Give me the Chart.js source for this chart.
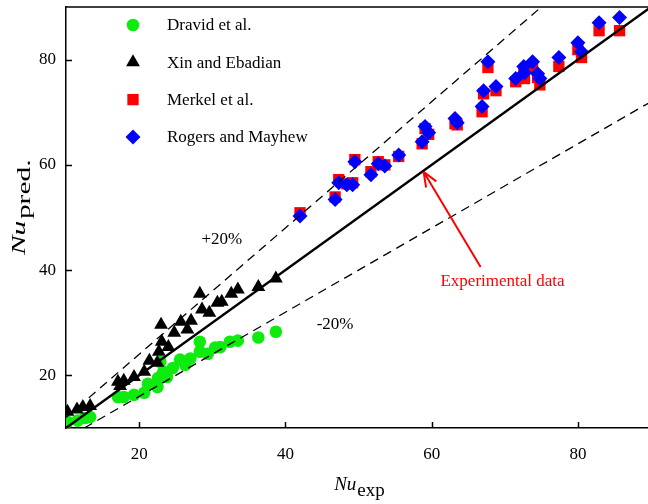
<!DOCTYPE html>
<html>
<head>
<meta charset="utf-8">
<title>Nu prediction vs experiment</title>
<script src="https://cdn.jsdelivr.net/npm/chart.js@4.4.0/dist/chart.umd.min.js"></script>
<style>
    html, body { margin: 0; padding: 0; background: #fff; overflow: hidden; }
    #wrap { width: 648px; height: 504px; overflow: hidden; }
</style>
</head>
<body>
<div id="wrap"><canvas id="nuChart" width="654" height="504"></canvas></div>
<script>
// ============ DATA ============

const xTicks = [20, 40, 60, 80];
const yTicks = [20, 40, 60, 80];

const dravidX = [10.2, 11.6, 12.6, 13.3, 17.1, 17.9, 19.3, 20.7, 21.2, 22.5, 22.6, 22.9, 23.3, 23.8,
    24.6, 25.6, 26.3, 27.0, 28.3, 28.3, 29.4, 30.4, 31.1, 32.4, 33.5, 36.3, 38.7];
const dravidY = [11.2, 11.4, 11.9, 12.1, 15.9, 15.9, 16.3, 16.7, 18.4, 17.8, 19.5, 22.6, 20.7, 19.7,
    21.4, 23.0, 22.0, 23.2, 26.4, 24.5, 24.1, 25.3, 25.4, 26.4, 26.6, 27.2, 28.3];

const xinX = [10.2, 11.5, 12.3, 13.3, 17.1, 17.4, 17.9, 19.3, 20.7, 21.4, 22.5, 22.7, 23.1, 23.0,
    24.0, 24.8, 25.7, 26.6, 27.1, 28.6, 29.6, 30.7, 31.3, 28.3, 32.6, 33.5, 36.3, 38.7];
const xinY = [13.1, 13.5, 14.0, 14.2, 18.8, 18.0, 19.0, 19.7, 20.7, 22.8, 22.4, 24.5, 26.4, 29.6,
    25.4, 28.1, 30.2, 28.7, 30.4, 32.5, 31.9, 33.8, 34.0, 35.5, 35.5, 36.3, 36.8, 38.4];

const rogersX = [42.0, 46.8, 47.3, 48.4, 49.2, 49.5, 51.7, 52.7, 53.6, 55.5, 58.7, 59.1, 59.6, 63.2,
    63.5, 66.9, 67.1, 67.7, 68.8, 71.5, 72.6, 72.7, 73.8, 74.5, 74.8, 77.4, 80.0, 80.5, 82.9, 85.7];
const rogersY = [50.3, 53.4, 56.6, 56.2, 56.2, 60.6, 58.1, 60.2, 59.8, 61.9, 64.4, 67.3, 66.1, 68.8,
    68.0, 71.1, 74.1, 79.6, 74.9, 76.4, 78.7, 77.5, 79.6, 77.3, 76.4, 80.4, 83.2, 81.5, 87.0, 88.0];

const merkelX = [42.0, 46.8, 47.3, 48.4, 49.2, 49.5, 51.7, 52.7, 53.6, 55.5, 58.7, 59.1, 59.6, 63.2,
    63.5, 66.9, 67.1, 67.7, 68.8, 71.5, 72.6, 72.7, 73.8, 74.5, 74.8, 77.4, 80.0, 80.5, 82.9, 85.7];
const merkelY = [50.9, 53.9, 57.2, 56.4, 56.6, 61.0, 58.7, 60.6, 60.0, 61.6, 64.0, 66.9, 65.8, 67.8,
    67.6, 70.1, 73.5, 78.5, 74.1, 75.8, 77.9, 76.4, 78.5, 76.6, 75.2, 78.7, 81.9, 80.4, 85.5, 85.5];

// reference lines: exact agreement and +/-20 % band (end points)
const parityX = [10, 90];
const parityY = [10, 90];
const plus20X = [10, 75];
const plus20Y = [12, 90];
const minus20X = [12.5, 90];
const minus20Y = [10, 72];

// arrow pointing to the parity line
const arrowTip = [58.9, 58.7];
const arrowTail = [66.7, 40.6];

const SERIF = '"Liberation Serif", "Times New Roman", serif';
const GREEN = 'rgb(15, 235, 15)';

const series = [
    { label: 'Dravid et al.', xs: dravidX, ys: dravidY, style: 'circle', radius: 6.3, color: GREEN, order: 4 },
    { label: 'Xin and Ebadian', xs: xinX, ys: xinY, style: 'triangle', radius: 8, color: '#000', order: 3 },
    { label: 'Merkel et al.', xs: merkelX, ys: merkelY, style: 'rect', radius: 8, color: '#ff0000', order: 2 },
    { label: 'Rogers and Mayhew', xs: rogersX, ys: rogersY, style: 'rectRot', radius: 7.5, color: '#0000ff', order: 1 }
];

function toPoints(xs, ys) {
    return xs.map((x, i) => ({ x: x, y: ys[i] }));
}

// ============ DATASETS ============

const datasets = series.map(s => ({
    label: s.label,
    data: toPoints(s.xs, s.ys),
    pointStyle: s.style,
    pointRadius: s.radius,
    pointHoverRadius: s.radius,
    backgroundColor: s.color,
    borderColor: s.color,
    borderWidth: 0,
    order: s.order
}));

function refLine(label, xs, ys, width, dash) {
    return {
        label: label,
        data: toPoints(xs, ys),
        showLine: true,
        pointRadius: 0,
        borderColor: '#000',
        borderWidth: width,
        borderDash: dash,
        fill: false,
        order: 0
    };
}

datasets.push(refLine('parity', parityX, parityY, 2.4, []));
datasets.push(refLine('+20%', plus20X, plus20Y, 1.3, [9, 6]));
datasets.push(refLine('-20%', minus20X, minus20Y, 1.3, [9, 6]));

// no extra room for half tick labels at the axis ends
function noEndPadding(s) {
    s.paddingTop = 0;
    s.paddingBottom = 0;
    s.paddingLeft = 0;
    s.paddingRight = 0;
}

// ============ DECORATION PLUGIN ============

const decorations = {
    id: 'decorations',
    afterDraw(chart) {
        const ctx = chart.ctx;
        const area = chart.chartArea;
        const sx = chart.scales.x;
        const sy = chart.scales.y;

        ctx.save();

        // frame top + inward tick marks
        ctx.strokeStyle = '#000';
        ctx.lineWidth = 1.5;
        ctx.beginPath();
        ctx.moveTo(area.left, area.top);
        ctx.lineTo(area.right, area.top);
        xTicks.forEach(v => {
            const px = Math.round(sx.getPixelForValue(v)) + 0.5;
            ctx.moveTo(px, area.bottom);
            ctx.lineTo(px, area.bottom - 6);
        });
        yTicks.forEach(v => {
            const py = Math.round(sy.getPixelForValue(v)) + 0.5;
            ctx.moveTo(area.left, py);
            ctx.lineTo(area.left + 6, py);
        });
        ctx.stroke();

        // legend inside the plot
        ctx.textBaseline = 'middle';
        ctx.textAlign = 'left';
        ctx.font = '17px ' + SERIF;
        series.forEach((s, i) => {
            const cy = 25 + i * 37.3;
            ctx.fillStyle = s.color;
            ctx.strokeStyle = s.color;
            Chart.helpers.drawPoint(ctx, {
                pointStyle: s.style, radius: s.radius, rotation: 0, borderWidth: 0
            }, 133, cy);
            ctx.fillStyle = '#000';
            ctx.fillText(s.label, 167, cy + 1);
        });

        // band labels
        ctx.textAlign = 'center';
        ctx.fillStyle = '#000';
        ctx.fillText('+20%', sx.getPixelForValue(31.3), sy.getPixelForValue(45.8));
        ctx.fillText('-20%', sx.getPixelForValue(46.8), sy.getPixelForValue(29.6));

        // experimental-data arrow
        const tx = sx.getPixelForValue(arrowTip[0]);
        const ty = sy.getPixelForValue(arrowTip[1]);
        const fx = sx.getPixelForValue(arrowTail[0]);
        const fy = sy.getPixelForValue(arrowTail[1]);
        const ang = Math.atan2(ty - fy, tx - fx);
        ctx.strokeStyle = '#ff0000';
        ctx.lineWidth = 2;
        ctx.beginPath();
        ctx.moveTo(fx, fy);
        ctx.lineTo(tx, ty);
        [0.38, -0.38].forEach(d => {
            ctx.moveTo(tx, ty);
            ctx.lineTo(tx - 16 * Math.cos(ang + d), ty - 16 * Math.sin(ang + d));
        });
        ctx.stroke();
        ctx.fillStyle = '#ff0000';
        ctx.fillText('Experimental data', sx.getPixelForValue(69.7), sy.getPixelForValue(37.8));

        // axis titles: italic Nu with upright subscript
        ctx.fillStyle = '#000';
        ctx.textAlign = 'left';
        ctx.textBaseline = 'alphabetic';
        const drawTitle = (sub, drop) => {
            ctx.font = 'italic 19px ' + SERIF;
            const w1 = ctx.measureText('Nu').width;
            ctx.font = '19px ' + SERIF;
            const w2 = ctx.measureText(sub).width;
            const start = -(w1 + w2) / 2;
            ctx.font = 'italic 19px ' + SERIF;
            ctx.fillText('Nu', start, 0);
            ctx.font = '19px ' + SERIF;
            ctx.fillText(sub, start + w1 + 1, drop);
        };

        ctx.save();
        ctx.translate(359, 490);
        drawTitle('exp', 6);
        ctx.restore();

        // the vertical title runs longer along its baseline
        ctx.save();
        ctx.translate(25, 208);
        ctx.rotate(-Math.PI / 2);
        ctx.scale(1.55, 1);
        drawTitle('pred.', 5);
        ctx.restore();

        ctx.restore();
    }
};

// ============ CHART ============

const ctx = document.getElementById('nuChart').getContext('2d');

const chart = new Chart(ctx, {
    type: 'scatter',
    data: { datasets: datasets },
    options: {
        responsive: false,
        animation: false,
        devicePixelRatio: 1,
        layout: { autoPadding: false, padding: { top: 7, right: 3, left: 0, bottom: 0 } },
        plugins: {
            legend: { display: false },
            tooltip: { enabled: false }
        },
        scales: {
            x: {
                type: 'linear',
                position: 'bottom',
                min: 10,
                max: 90,
                afterBuildTicks: s => { s.ticks = xTicks.map(v => ({ value: v })); },
                afterFit: s => { s.height = 76; noEndPadding(s); },
                grid: { drawOnChartArea: false, drawTicks: false },
                border: { color: '#000', width: 1.5 },
                ticks: {
                    color: '#000',
                    padding: 16,
                    maxRotation: 0,
                    font: { family: SERIF, size: 17 }
                }
            },
            y: {
                type: 'linear',
                min: 10,
                max: 90,
                afterBuildTicks: s => { s.ticks = yTicks.map(v => ({ value: v })); },
                afterFit: s => { s.width = 66; noEndPadding(s); },
                grid: { drawOnChartArea: false, drawTicks: false },
                border: { color: '#000', width: 1.5 },
                ticks: {
                    color: '#000',
                    padding: 10,
                    font: { family: SERIF, size: 17 }
                }
            }
        }
    },
    plugins: [decorations]
});
</script>
</body>
</html>
